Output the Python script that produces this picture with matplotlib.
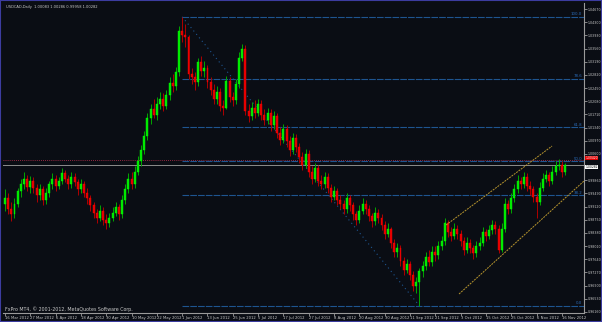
# USDCAD daily candles, MT4 style dark chart with fibo levels and channel

import numpy as np
import matplotlib
matplotlib.use("Agg")
import matplotlib.pyplot as plt
from matplotlib.patches import Rectangle

# tick labels on the time axis (one every 8 bars)
date_labels = ["16 Mar 2012", "27 Mar 2012", "6 Apr 2012", "18 Apr 2012", "30 Apr 2012",
               "10 May 2012", "22 May 2012", "1 Jun 2012", "13 Jun 2012", "25 Jun 2012",
               "5 Jul 2012", "17 Jul 2012", "27 Jul 2012", "8 Aug 2012", "20 Aug 2012",
               "30 Aug 2012", "11 Sep 2012", "21 Sep 2012", "3 Oct 2012", "15 Oct 2012",
               "25 Oct 2012", "6 Nov 2012", "16 Nov 2012"]

price_ticks = [1.04670, 1.04300, 1.03930, 1.03560, 1.03190, 1.02820, 1.02450, 1.02080,
               1.01710, 1.01340, 1.00970, 1.00600, 1.00230, 0.99860, 0.99490, 0.99120,
               0.98750, 0.98380, 0.98010, 0.97640, 0.97270, 0.96900, 0.96530, 0.96160]

first_open = 0.9920
closes = [0.9935, 0.9905, 0.9890, 0.9920, 0.9955, 0.9975, 0.9990, 0.9968, 0.9985, 0.9965,
          0.9945, 0.9960, 0.9930, 0.9950, 0.9975, 0.9990, 0.9970, 0.9985, 1.0005, 0.9990,
          0.9975, 0.9995, 0.9980, 0.9960, 0.9975, 0.9950, 0.9935, 0.9915, 0.9895, 0.9880,
          0.9900, 0.9875, 0.9865, 0.9880, 0.9895, 0.9910, 0.9890, 0.9930, 0.9960, 0.9990,
          0.9975, 1.0010, 1.0040, 1.0070, 1.0110, 1.0160, 1.0185, 1.0170, 1.0200, 1.0215,
          1.0195, 1.0225, 1.0260, 1.0250, 1.0290, 1.0405, 1.0395, 1.0388, 1.0285, 1.0275,
          1.0262, 1.0318, 1.0292, 1.0300, 1.0262, 1.0240, 1.0215, 1.0235, 1.0195, 1.0190,
          1.0265, 1.0220, 1.0210, 1.0255, 1.0330, 1.0355, 1.0180, 1.0165, 1.0190, 1.0175,
          1.0200, 1.0170, 1.0155, 1.0175, 1.0140, 1.0165, 1.0120, 1.0100, 1.0130, 1.0095,
          1.0070, 1.0105, 1.0080, 1.0050, 1.0030, 1.0060, 1.0010, 0.9990, 1.0020, 0.9985,
          0.9975, 0.9995, 0.9965, 0.9940, 0.9955, 0.9930, 0.9920, 0.9905, 0.9935, 0.9915,
          0.9890, 0.9875, 0.9900, 0.9920, 0.9905, 0.9885, 0.9870, 0.9895, 0.9880, 0.9860,
          0.9835, 0.9850, 0.9810, 0.9785, 0.9795, 0.9760, 0.9735, 0.9750, 0.9720, 0.9690,
          0.9700, 0.9730, 0.9745, 0.9770, 0.9755, 0.9785, 0.9775, 0.9800, 0.9815, 0.9865,
          0.9840, 0.9830, 0.9850, 0.9835, 0.9815, 0.9790, 0.9810, 0.9795, 0.9780, 0.9800,
          0.9810, 0.9840, 0.9830, 0.9845, 0.9860, 0.9850, 0.9790, 0.9850, 0.9920, 0.9905,
          0.9935, 0.9960, 0.9985, 0.9975, 0.9995, 0.9970, 0.9960, 0.9940, 0.9925, 0.9965,
          0.9990, 1.0000, 0.9985, 1.0010, 1.0025, 1.0030, 1.0010, 1.0028]
highs = [0.9960, 0.9950, 0.9925, 0.9935, 0.9965, 0.9990, 1.0010, 1.0000, 0.9998, 0.9995,
         0.9975, 0.9975, 0.9970, 0.9965, 0.9985, 1.0005, 1.0000, 0.9995, 1.0020, 1.0015,
         1.0000, 1.0010, 1.0005, 0.9990, 0.9990, 0.9985, 0.9965, 0.9945, 0.9925, 0.9905,
         0.9915, 0.9910, 0.9890, 0.9895, 0.9910, 0.9925, 0.9920, 0.9945, 0.9975, 1.0005,
         1.0010, 1.0025, 1.0055, 1.0085, 1.0125, 1.0175, 1.0200, 1.0215, 1.0220, 1.0235,
         1.0230, 1.0240, 1.0275, 1.0285, 1.0305, 1.0420, 1.0445, 1.0425, 1.0395, 1.0300,
         1.0290, 1.0330, 1.0335, 1.0320, 1.0310, 1.0275, 1.0255, 1.0250, 1.0245, 1.0210,
         1.0280, 1.0275, 1.0235, 1.0270, 1.0345, 1.0370, 1.0365, 1.0200, 1.0205, 1.0210,
         1.0215, 1.0210, 1.0185, 1.0190, 1.0185, 1.0180, 1.0175, 1.0135, 1.0145, 1.0140,
         1.0110, 1.0120, 1.0115, 1.0090, 1.0065, 1.0075, 1.0070, 1.0025, 1.0035, 1.0030,
         1.0000, 1.0010, 1.0005, 0.9975, 0.9970, 0.9965, 0.9945, 0.9930, 0.9950, 0.9945,
         0.9925, 0.9900, 0.9915, 0.9935, 0.9930, 0.9915, 0.9895, 0.9910, 0.9905, 0.9890,
         0.9870, 0.9865, 0.9855, 0.9820, 0.9810, 0.9805, 0.9770, 0.9765, 0.9760, 0.9730,
         0.9715, 0.9740, 0.9760, 0.9785, 0.9790, 0.9800, 0.9800, 0.9815, 0.9830, 0.9880,
         0.9875, 0.9855, 0.9865, 0.9860, 0.9845, 0.9825, 0.9825, 0.9820, 0.9805, 0.9815,
         0.9825, 0.9855, 0.9850, 0.9860, 0.9875, 0.9870, 0.9860, 0.9865, 0.9935, 0.9930,
         0.9950, 0.9975, 1.0000, 0.9995, 1.0010, 1.0005, 0.9985, 0.9970, 0.9950, 0.9980,
         1.0005, 1.0015, 1.0010, 1.0025, 1.0040, 1.0045, 1.0040, 1.0035]
lows = [0.9900, 0.9890, 0.9870, 0.9880, 0.9910, 0.9940, 0.9960, 0.9955, 0.9950, 0.9950,
        0.9925, 0.9930, 0.9915, 0.9920, 0.9940, 0.9960, 0.9955, 0.9960, 0.9975, 0.9980,
        0.9960, 0.9965, 0.9970, 0.9945, 0.9950, 0.9940, 0.9920, 0.9900, 0.9880, 0.9865,
        0.9870, 0.9860, 0.9850, 0.9855, 0.9870, 0.9885, 0.9875, 0.9880, 0.9920, 0.9950,
        0.9960, 0.9965, 1.0000, 1.0025, 1.0060, 1.0100, 1.0145, 1.0160, 1.0155, 1.0185,
        1.0180, 1.0185, 1.0210, 1.0235, 1.0240, 1.0280, 1.0375, 1.0360, 1.0270, 1.0255,
        1.0240, 1.0250, 1.0280, 1.0275, 1.0245, 1.0225, 1.0200, 1.0200, 1.0180, 1.0170,
        1.0185, 1.0205, 1.0195, 1.0200, 1.0245, 1.0320, 1.0170, 1.0150, 1.0155, 1.0160,
        1.0165, 1.0155, 1.0140, 1.0145, 1.0125, 1.0130, 1.0105, 1.0085, 1.0090, 1.0080,
        1.0055, 1.0060, 1.0065, 1.0035, 1.0015, 1.0020, 0.9995, 0.9975, 0.9980, 0.9970,
        0.9960, 0.9965, 0.9950, 0.9925, 0.9930, 0.9915, 0.9905, 0.9890, 0.9895, 0.9900,
        0.9875, 0.9860, 0.9865, 0.9890, 0.9890, 0.9870, 0.9855, 0.9860, 0.9865, 0.9845,
        0.9820, 0.9825, 0.9795, 0.9770, 0.9770, 0.9745, 0.9720, 0.9725, 0.9705, 0.9675,
        0.9670, 0.9633, 0.9715, 0.9735, 0.9745, 0.9745, 0.9760, 0.9765, 0.9790, 0.9805,
        0.9825, 0.9815, 0.9820, 0.9820, 0.9800, 0.9775, 0.9780, 0.9780, 0.9765, 0.9770,
        0.9790, 0.9800, 0.9815, 0.9820, 0.9835, 0.9835, 0.9780, 0.9785, 0.9840, 0.9890,
        0.9895, 0.9925, 0.9950, 0.9960, 0.9965, 0.9955, 0.9945, 0.9925, 0.9880, 0.9915,
        0.9955, 0.9980, 0.9970, 0.9975, 1.0000, 1.0015, 0.9995, 1.0000]

# fibo retracement levels between the June high and the September low
fib_high = 1.0445
fib_low = 0.9633
fib_levels = [0.0, 38.2, 50.0, 61.8, 78.6, 100.0]

bid_label = "1.00282"
ask_label = "1.00420"

bg = "#0a0d14"
fg = "#c8c8c8"

opens = [first_open] + closes[:-1]
n = len(closes)
idx = np.arange(n)
o = np.array(opens)
c = np.array(closes)
h = np.array(highs)
l = np.array(lows)
up = c >= o

fig = plt.figure(figsize=(6.02, 3.22), dpi=100, facecolor=bg)
ax = fig.add_axes([3 / 602, 1 - 313 / 322, 581 / 602, 310 / 322], facecolor=bg)

# wicks then bodies
ax.vlines(idx[up], l[up], h[up], color="#00a800", lw=0.7, zorder=3)
ax.vlines(idx[~up], l[~up], h[~up], color="#b00000", lw=0.7, zorder=3)
body_bot = np.minimum(o, c)
body_h = np.maximum(np.abs(c - o), 0.00012)
ax.bar(idx[up], body_h[up], bottom=body_bot[up], width=0.62, color="#00e600",
       edgecolor="#00ff00", lw=0.3, zorder=4)
ax.bar(idx[~up], body_h[~up], bottom=body_bot[~up], width=0.62, color="#e00000",
       edgecolor="#ff0000", lw=0.3, zorder=4)

i_hi = int(np.argmax(h))
i_lo = int(np.argmin(l))
x_right = n + 5.0

# fibo lines + labels
for lv in fib_levels:
    p = fib_low + lv / 100 * (fib_high - fib_low)
    ax.plot([i_hi, x_right], [p, p], color="#1e5590", lw=0.8, ls=(0, (6, 1)), zorder=2)
    ax.text(x_right - 0.6, p + 0.0002, f"{lv:.1f}", color="#2a6bb8", fontsize=2.8,
            ha="right", va="bottom", zorder=5)
ax.plot([i_hi, i_lo], [fib_high, fib_low], color="#1e5590", lw=0.8, ls=(0, (1, 3)), zorder=2)

# trend channel
ax.plot([139.4, 172.9], [0.9860, 1.0082], color="#b8962e", lw=0.7, ls=(0, (2, 1)), zorder=5)
ax.plot([143.5, 183.0], [0.96662, 0.99837], color="#b8962e", lw=0.7, ls=(0, (2, 1)), zorder=5)

# bid / ask lines
ask_p = float(ask_label)
ax.axhline(closes[-1], color="#8c8c8c", lw=0.7, zorder=1)
ax.axhline(ask_p, color="#c03050", lw=0.6, ls=(0, (1, 1.5)), zorder=1)

ax.set_xlim(-0.63, x_right)
ax.set_ylim(0.96128, 1.04839)

for s in ["top", "left"]:
    ax.spines[s].set_visible(False)
for s in ["right", "bottom"]:
    ax.spines[s].set_color("#9a9a9a")
    ax.spines[s].set_linewidth(0.8)

# the price boxes hide the axis label they sit on, as in the terminal
ax.yaxis.tick_right()
ax.set_yticks(price_ticks)
ax.set_yticklabels(["" if abs(p - closes[-1]) < 0.001 else f"{p:.5f}" for p in price_ticks])
ax.tick_params(axis="y", colors="#9a9a9a", length=2, width=0.6, pad=0.8,
               labelsize=2.3, labelcolor=fg)

ax.set_xticks(np.arange(len(date_labels)) * 8)
ax.set_xticklabels(date_labels, ha="left")
ax.tick_params(axis="x", colors="#9a9a9a", length=2, width=0.6, pad=0.5,
               labelsize=2.7, labelcolor=fg)

# price boxes on the axis, red ask box sits right on top of the white bid box
ax.text(1.002, ask_p, ask_label, transform=ax.get_yaxis_transform(), fontsize=2.2,
        color="white", ha="left", va="bottom",
        bbox=dict(boxstyle="square,pad=0.05", fc="#e00000", ec="none"), clip_on=False, zorder=6)
ax.text(1.002, closes[-1], bid_label, transform=ax.get_yaxis_transform(), fontsize=2.2,
        color="black", ha="left", va="top",
        bbox=dict(boxstyle="square,pad=0.05", fc="white", ec="none"), clip_on=False, zorder=6)

fig.text(6 / 602, 1 - 7 / 322, "USDCAD,Daily  1.00083 1.00286 0.99958 1.00282",
         color=fg, fontsize=2.6, va="center")
fig.text(5 / 602, 1 - 309 / 322, "FxPro MT4, \u00a9 2001-2012, MetaQuotes Software Corp.",
         color=fg, fontsize=3.4, va="center")

fig.patches.append(Rectangle((0, 0), 1, 1, transform=fig.transFigure, fill=False,
                             edgecolor="#3c3ca0", lw=1.5))

fig.savefig("out.png", dpi=100, facecolor=bg)
